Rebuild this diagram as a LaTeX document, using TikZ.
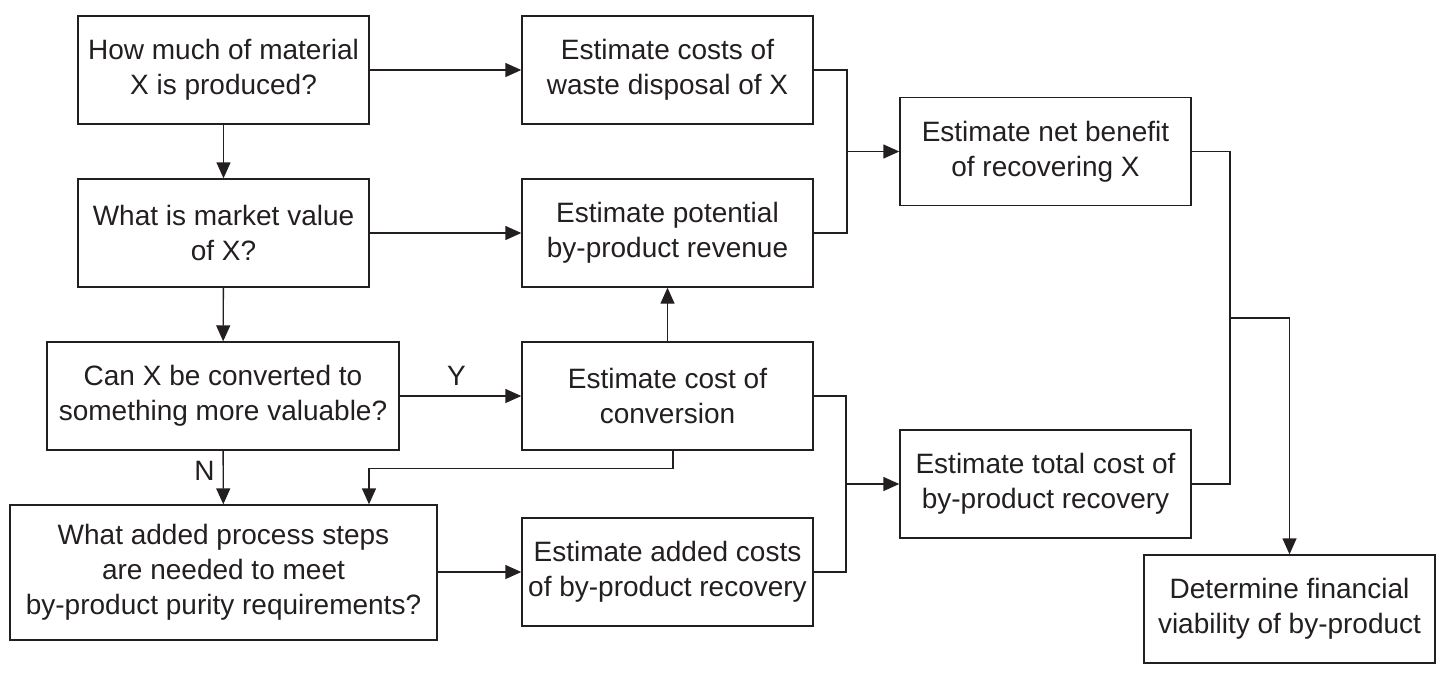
\documentclass[tikz,border=0pt]{standalone}
\usepackage{fontspec}
\setmainfont{Liberation Sans}
\usetikzlibrary{arrows.meta}
\definecolor{ink}{HTML}{231F20}
\begin{document}
\begin{tikzpicture}[x=0.5pt,y=-0.5pt,
  box/.style={draw=ink,line width=0.7pt,inner sep=0pt,align=center,
    font=\fontsize{14}{17.5}\selectfont,text=ink},
  wA/.style={minimum width=145.5pt,minimum height=54pt},
  arr/.style={draw=ink,line width=0.7pt,-{Triangle[length=8pt,width=7pt]}},
  ln/.style={draw=ink,line width=0.7pt},
  lab/.style={font=\fontsize{14}{17.5}\selectfont,text=ink,inner sep=0pt}]
\useasboundingbox (0,0) rectangle (1449,675);
\node[box,wA] (A) at (223.5,70) {How much of material\\X is produced?};
\node[box,wA] (B) at (223.5,233) {What is market value\\of X?};
\node[box,minimum width=176pt,minimum height=54pt] (C) at (223,396) {Can X be converted to\\something more valuable?};
\node[box,minimum width=213.5pt,minimum height=67.5pt] (D) at (223.5,572.5) {What added process steps\\are needed to meet\\by-product purity requirements?};
\node[box,wA] (E) at (667.5,70) {Estimate costs of\\waste disposal of X};
\node[box,wA] (F) at (667.5,233) {Estimate potential\\by-product revenue};
\node[box,wA] (G) at (667.5,396) {Estimate cost of\\conversion};
\node[box,wA] (H) at (667.5,572) {Estimate added costs\\of by-product recovery};
\node[box,wA] (I) at (1045.5,151.5) {Estimate net benefit\\of recovering X};
\node[box,wA] (J) at (1045.5,484) {Estimate total cost of\\by-product recovery};
\node[box,wA] (K) at (1289.5,609) {Determine financial\\viability of by-product};
\coordinate (m1) at (847,151.5);
\coordinate (m2) at (846,484);
\coordinate (m3) at (1230,318);
\draw[arr] (A) -- (E);
\draw[arr] (B) -- (F);
\draw[arr] (C) -- (G) node[lab,midway,above=5pt,xshift=-2pt] {Y};
\draw[arr] (A) -- (B);
\draw[arr] (B) -- (C);
\draw[arr] (C) -- (D) node[lab,midway,left=4pt,yshift=3.5pt] {N};
\draw[arr] (D.east |- H.west) -- (H.west);
\draw[arr] (G) -- (F);
\draw[arr] ([xshift=2.75pt]G.south) -- ++(0,18) -| ([xshift=72.75pt]D.north);
\draw[ln] (E.east) -| (m1);
\draw[ln] (F.east) -| (m1);
\draw[arr] (m1) -- (I.west);
\draw[ln] (G.east) -| (m2);
\draw[ln] (H.east) -| (m2);
\draw[arr] (m2) -- (J.west);
\draw[ln] (I.east) -| (m3);
\draw[ln] (J.east) -| (m3);
\draw[arr] (m3) -| (K.north);
\end{tikzpicture}
\end{document}
